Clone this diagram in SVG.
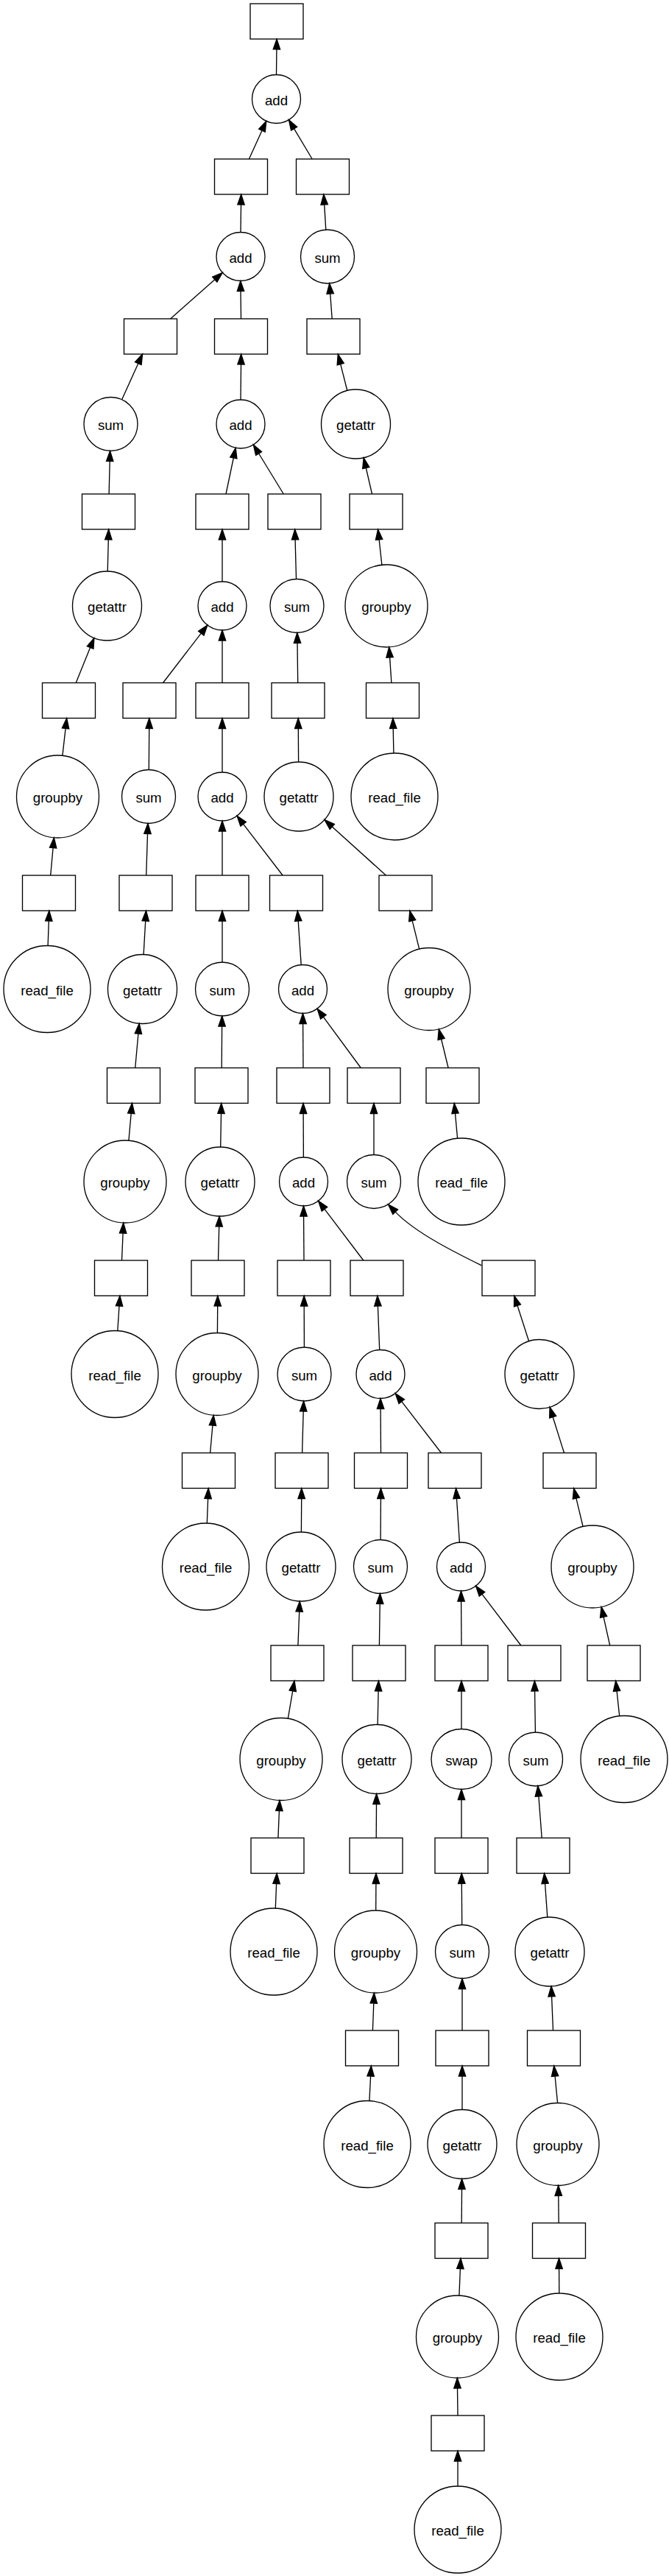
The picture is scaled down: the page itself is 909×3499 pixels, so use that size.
<svg xmlns="http://www.w3.org/2000/svg" width="909" height="3499" viewBox="0 0 909 3499">
<style>
.b{fill:none;stroke:#000;stroke-width:1.33}
.c{fill:none;stroke:#000;stroke-width:1.33}
.e{fill:none;stroke:#000;stroke-width:1.33;marker-end:url(#ah)}
text{font-family:"Liberation Sans",Arial,Helvetica,sans-serif;font-size:18.67px;text-anchor:middle;fill:#000}
</style>
<defs>
<marker id="ah" markerUnits="userSpaceOnUse" viewBox="-1 -6 17 12" refX="0" refY="0" markerWidth="17" markerHeight="12" orient="auto" overflow="visible">
<path d="M0,-4.7 L14,0 L0,4.7 Z" fill="#000" stroke="#000" stroke-width="1.33"/>
</marker>
</defs>
<rect x="0" y="0" width="909" height="3499" fill="#fff"/>
<g id="edges">
<path class="e" d="M375.5,101.5 L375.9,67"/>
<path class="e" d="M338.4,216 L356,177.2"/>
<path class="e" d="M424.2,216 L399.6,174.8"/>
<path class="e" d="M327,315.5 L327.5,278"/>
<path class="e" d="M442.8,312.1 L440.7,278"/>
<path class="e" d="M231.6,433 L291.8,379.7"/>
<path class="e" d="M327.5,433 L327,395.5"/>
<path class="e" d="M451.2,433 L448.7,398.9"/>
<path class="e" d="M165.6,542.8 L187.8,493.7"/>
<path class="e" d="M327,543 L327.5,495"/>
<path class="e" d="M471.8,530.5 L462.7,494.6"/>
<path class="e" d="M148.1,671 L149.2,626.5"/>
<path class="e" d="M307,671 L317.3,622"/>
<path class="e" d="M385.3,671 L351.6,616"/>
<path class="e" d="M505.5,671 L497.3,635.5"/>
<path class="e" d="M146.2,776 L147.3,733"/>
<path class="e" d="M302,790 L302,733"/>
<path class="e" d="M402.5,786.5 L401.1,733"/>
<path class="e" d="M518.9,767.4 L515.1,732.9"/>
<path class="e" d="M103.2,927.5 L122.6,879.6"/>
<path class="e" d="M221.5,927.5 L273.3,860.2"/>
<path class="e" d="M302,927.5 L302,870"/>
<path class="e" d="M404.7,927.5 L404,873.5"/>
<path class="e" d="M531.9,927.5 L529.6,892.9"/>
<path class="e" d="M84.9,1026.4 L89.1,989.4"/>
<path class="e" d="M202.3,1045.5 L202.7,989.5"/>
<path class="e" d="M302,1049 L302,989.5"/>
<path class="e" d="M405.6,1035 L405.3,989.5"/>
<path class="e" d="M534.9,1023 L534.2,989.5"/>
<path class="e" d="M68.7,1189 L72.1,1151.7"/>
<path class="e" d="M198.7,1189 L200.5,1132.5"/>
<path class="e" d="M302,1189 L302,1129"/>
<path class="e" d="M384.1,1189 L330.6,1119.3"/>
<path class="e" d="M524.4,1189 L451.3,1122.9"/>
<path class="e" d="M65.1,1284.5 L66.3,1251"/>
<path class="e" d="M195.1,1296.5 L197.7,1251"/>
<path class="e" d="M302,1307 L302,1251"/>
<path class="e" d="M409.2,1310.6 L405.2,1251"/>
<path class="e" d="M569.7,1289.1 L560.2,1250.6"/>
<path class="e" d="M183.7,1450.5 L187.9,1404.2"/>
<path class="e" d="M301.2,1450.5 L301.6,1394"/>
<path class="e" d="M412,1450.5 L411.6,1390.5"/>
<path class="e" d="M490.3,1450.5 L439.4,1381.4"/>
<path class="e" d="M609.1,1450.5 L599.6,1411.5"/>
<path class="e" d="M174.9,1549.2 L178.2,1512.4"/>
<path class="e" d="M299.7,1558 L300.5,1512.5"/>
<path class="e" d="M412.4,1572 L412.1,1512.5"/>
<path class="e" d="M508,1568.5 L508,1512.5"/>
<path class="e" d="M621.6,1546.3 L618.5,1512.4"/>
<path class="e" d="M165.5,1712 L167.1,1675"/>
<path class="e" d="M296.5,1712 L297.7,1666"/>
<path class="e" d="M413,1712 L412.6,1652"/>
<path class="e" d="M493.8,1712 L441,1642.4"/>
<path class="e" d="M654.5,1719 C620,1702 565,1675 537.2,1646.1"/>
<path class="e" d="M159.8,1807.6 L162,1774"/>
<path class="e" d="M295.4,1810.5 L295.7,1774"/>
<path class="e" d="M413.4,1830 L413.2,1774"/>
<path class="e" d="M515.7,1833.5 L513.4,1774"/>
<path class="e" d="M718.6,1821.8 L703,1773.3"/>
<path class="e" d="M285.6,1973.5 L288.9,1936.2"/>
<path class="e" d="M410.6,1973.5 L412.2,1917"/>
<path class="e" d="M517.5,1973.5 L517.1,1913.5"/>
<path class="e" d="M599.5,1973.5 L545.7,1903.7"/>
<path class="e" d="M766.5,1973.5 L751.2,1924.7"/>
<path class="e" d="M281.3,2069 L282.6,2035.5"/>
<path class="e" d="M409.4,2081 L409.7,2035.5"/>
<path class="e" d="M517.1,2091.5 L517.4,2035.5"/>
<path class="e" d="M624.4,2095.1 L620.5,2035.5"/>
<path class="e" d="M792.1,2073.5 L782.9,2035.1"/>
<path class="e" d="M404.9,2235 L406.7,2189"/>
<path class="e" d="M515.4,2235 L516.2,2178.5"/>
<path class="e" d="M627,2235 L626.6,2175"/>
<path class="e" d="M707.8,2235 L655,2165.4"/>
<path class="e" d="M828.7,2235 L820.1,2196.3"/>
<path class="e" d="M391.3,2334.3 L397.7,2296.8"/>
<path class="e" d="M513.1,2342.5 L514.1,2297"/>
<path class="e" d="M627,2348.5 L627,2297"/>
<path class="e" d="M727.4,2353 L726.6,2297"/>
<path class="e" d="M841.7,2330.8 L838.1,2296.9"/>
<path class="e" d="M377.9,2496.5 L379.4,2459.5"/>
<path class="e" d="M511.2,2496.5 L511.5,2450.5"/>
<path class="e" d="M627,2496.5 L627,2444.5"/>
<path class="e" d="M736.2,2496.5 L731.9,2439.9"/>
<path class="e" d="M374.3,2592 L375.6,2558.5"/>
<path class="e" d="M510.7,2595 L510.9,2558.5"/>
<path class="e" d="M627.7,2614.5 L627.3,2558.5"/>
<path class="e" d="M743.8,2604.1 L740.6,2558.5"/>
<path class="e" d="M506.4,2758 L507.8,2721"/>
<path class="e" d="M628,2758 L628,2701.5"/>
<path class="e" d="M751.5,2758 L749.6,2711.9"/>
<path class="e" d="M501.9,2853.6 L503.6,2820"/>
<path class="e" d="M628,2865.5 L628,2820"/>
<path class="e" d="M757.6,2856.6 L754.1,2820"/>
<path class="e" d="M627.2,3019.5 L627.5,2973.5"/>
<path class="e" d="M759.2,3019.5 L758.8,2982.5"/>
<path class="e" d="M623.9,3118.1 L625.4,3081.5"/>
<path class="e" d="M759.8,3115 L759.6,3081.5"/>
<path class="e" d="M622,3281 L621.5,3244"/>
<path class="e" d="M622,3377 L622,3343"/>
</g>
<g id="n0"><rect class="b" x="340" y="5" width="72" height="48"/></g>
<g id="n1"><circle class="c" cx="375.5" cy="134.5" r="33"/><text x="375.5" y="142.5">add</text></g>
<g id="n2a"><rect class="b" x="291.5" y="216" width="72" height="48"/></g>
<g id="n2b"><rect class="b" x="402.5" y="216" width="72" height="48"/></g>
<g id="n3a"><circle class="c" cx="327" cy="348.5" r="33"/><text x="327" y="356.5">add</text></g>
<g id="n3b"><circle class="c" cx="445" cy="348.5" r="36.5"/><text x="445" y="356.5">sum</text></g>
<g id="n4a"><rect class="b" x="168.5" y="433" width="72" height="48"/></g>
<g id="n4b"><rect class="b" x="291.5" y="433" width="72" height="48"/></g>
<g id="n4c"><rect class="b" x="417" y="433" width="72" height="48"/></g>
<g id="n5a"><circle class="c" cx="150.5" cy="576" r="36.5"/><text x="150.5" y="584">sum</text></g>
<g id="n5b"><circle class="c" cx="327" cy="576" r="33"/><text x="327" y="584">add</text></g>
<g id="n5c"><circle class="c" cx="483.5" cy="576" r="47"/><text x="483.5" y="584">getattr</text></g>
<g id="n6a"><rect class="b" x="111.5" y="671" width="72" height="48"/></g>
<g id="n6b"><rect class="b" x="266" y="671" width="72" height="48"/></g>
<g id="n6c"><rect class="b" x="364" y="671" width="72" height="48"/></g>
<g id="n6d"><rect class="b" x="475" y="671" width="72" height="48"/></g>
<g id="n7a"><circle class="c" cx="145.5" cy="823" r="47"/><text x="145.5" y="831">getattr</text></g>
<g id="n7b"><circle class="c" cx="302" cy="823" r="33"/><text x="302" y="831">add</text></g>
<g id="n7c"><circle class="c" cx="403.5" cy="823" r="36.5"/><text x="403.5" y="831">sum</text></g>
<g id="n7d"><circle class="c" cx="525" cy="823" r="56"/><text x="525" y="831">groupby</text></g>
<g id="n8a"><rect class="b" x="57.5" y="927.5" width="72" height="48"/></g>
<g id="n8b"><rect class="b" x="167" y="927.5" width="72" height="48"/></g>
<g id="n8c"><rect class="b" x="266" y="927.5" width="72" height="48"/></g>
<g id="n8d"><rect class="b" x="369" y="927.5" width="72" height="48"/></g>
<g id="n8e"><rect class="b" x="497.5" y="927.5" width="72" height="48"/></g>
<g id="n9a"><circle class="c" cx="78.5" cy="1082" r="56"/><text x="78.5" y="1090">groupby</text></g>
<g id="n9b"><circle class="c" cx="202" cy="1082" r="36.5"/><text x="202" y="1090">sum</text></g>
<g id="n9c"><circle class="c" cx="302" cy="1082" r="33"/><text x="302" y="1090">add</text></g>
<g id="n9d"><circle class="c" cx="406" cy="1082" r="47"/><text x="406" y="1090">getattr</text></g>
<g id="n9e"><circle class="c" cx="536" cy="1082" r="59"/><text x="536" y="1090">read_file</text></g>
<g id="n10a"><rect class="b" x="30.5" y="1189" width="72" height="48"/></g>
<g id="n10b"><rect class="b" x="162" y="1189" width="72" height="48"/></g>
<g id="n10c"><rect class="b" x="266" y="1189" width="72" height="48"/></g>
<g id="n10d"><rect class="b" x="366.5" y="1189" width="72" height="48"/></g>
<g id="n10e"><rect class="b" x="515" y="1189" width="72" height="48"/></g>
<g id="n11a"><circle class="c" cx="64" cy="1343.5" r="59"/><text x="64" y="1351.5">read_file</text></g>
<g id="n11b"><circle class="c" cx="193.5" cy="1343.5" r="47"/><text x="193.5" y="1351.5">getattr</text></g>
<g id="n11c"><circle class="c" cx="302" cy="1343.5" r="36.5"/><text x="302" y="1351.5">sum</text></g>
<g id="n11d"><circle class="c" cx="411.5" cy="1343.5" r="33"/><text x="411.5" y="1351.5">add</text></g>
<g id="n11e"><circle class="c" cx="583" cy="1343.5" r="56"/><text x="583" y="1351.5">groupby</text></g>
<g id="n12a"><rect class="b" x="145.5" y="1450.5" width="72" height="48"/></g>
<g id="n12b"><rect class="b" x="265" y="1450.5" width="72" height="48"/></g>
<g id="n12c"><rect class="b" x="376" y="1450.5" width="72" height="48"/></g>
<g id="n12d"><rect class="b" x="472" y="1450.5" width="72" height="48"/></g>
<g id="n12e"><rect class="b" x="579" y="1450.5" width="72" height="48"/></g>
<g id="n13a"><circle class="c" cx="170" cy="1605" r="56"/><text x="170" y="1613">groupby</text></g>
<g id="n13b"><circle class="c" cx="299" cy="1605" r="47"/><text x="299" y="1613">getattr</text></g>
<g id="n13c"><circle class="c" cx="412.5" cy="1605" r="33"/><text x="412.5" y="1613">add</text></g>
<g id="n13d"><circle class="c" cx="508" cy="1605" r="36.5"/><text x="508" y="1613">sum</text></g>
<g id="n13e"><circle class="c" cx="627" cy="1605" r="59"/><text x="627" y="1613">read_file</text></g>
<g id="n14a"><rect class="b" x="128.5" y="1712" width="72" height="48"/></g>
<g id="n14b"><rect class="b" x="260" y="1712" width="72" height="48"/></g>
<g id="n14c"><rect class="b" x="377" y="1712" width="72" height="48"/></g>
<g id="n14d"><rect class="b" x="476" y="1712" width="72" height="48"/></g>
<g id="n14e"><rect class="b" x="655" y="1712" width="72" height="48"/></g>
<g id="n15a"><circle class="c" cx="156" cy="1866.5" r="59"/><text x="156" y="1874.5">read_file</text></g>
<g id="n15b"><circle class="c" cx="295" cy="1866.5" r="56"/><text x="295" y="1874.5">groupby</text></g>
<g id="n15c"><circle class="c" cx="413.5" cy="1866.5" r="36.5"/><text x="413.5" y="1874.5">sum</text></g>
<g id="n15d"><circle class="c" cx="517" cy="1866.5" r="33"/><text x="517" y="1874.5">add</text></g>
<g id="n15e"><circle class="c" cx="733" cy="1866.5" r="47"/><text x="733" y="1874.5">getattr</text></g>
<g id="n16a"><rect class="b" x="247.5" y="1973.5" width="72" height="48"/></g>
<g id="n16b"><rect class="b" x="374" y="1973.5" width="72" height="48"/></g>
<g id="n16c"><rect class="b" x="481.5" y="1973.5" width="72" height="48"/></g>
<g id="n16d"><rect class="b" x="582" y="1973.5" width="72" height="48"/></g>
<g id="n16e"><rect class="b" x="738" y="1973.5" width="72" height="48"/></g>
<g id="n17a"><circle class="c" cx="279.5" cy="2128" r="59"/><text x="279.5" y="2136">read_file</text></g>
<g id="n17b"><circle class="c" cx="409" cy="2128" r="47"/><text x="409" y="2136">getattr</text></g>
<g id="n17c"><circle class="c" cx="517" cy="2128" r="36.5"/><text x="517" y="2136">sum</text></g>
<g id="n17d"><circle class="c" cx="626.5" cy="2128" r="33"/><text x="626.5" y="2136">add</text></g>
<g id="n17e"><circle class="c" cx="805" cy="2128" r="56"/><text x="805" y="2136">groupby</text></g>
<g id="n18a"><rect class="b" x="368" y="2235" width="72" height="48"/></g>
<g id="n18b"><rect class="b" x="479" y="2235" width="72" height="48"/></g>
<g id="n18c"><rect class="b" x="591" y="2235" width="72" height="48"/></g>
<g id="n18d"><rect class="b" x="690" y="2235" width="72" height="48"/></g>
<g id="n18e"><rect class="b" x="798" y="2235" width="72" height="48"/></g>
<g id="n19a"><circle class="c" cx="382" cy="2389.5" r="56"/><text x="382" y="2397.5">groupby</text></g>
<g id="n19b"><circle class="c" cx="512" cy="2389.5" r="47"/><text x="512" y="2397.5">getattr</text></g>
<g id="n19c"><circle class="c" cx="627" cy="2389.5" r="41"/><text x="627" y="2397.5">swap</text></g>
<g id="n19d"><circle class="c" cx="728" cy="2389.5" r="36.5"/><text x="728" y="2397.5">sum</text></g>
<g id="n19e"><circle class="c" cx="848" cy="2389.5" r="59"/><text x="848" y="2397.5">read_file</text></g>
<g id="n20a"><rect class="b" x="341" y="2496.5" width="72" height="48"/></g>
<g id="n20b"><rect class="b" x="475" y="2496.5" width="72" height="48"/></g>
<g id="n20c"><rect class="b" x="591" y="2496.5" width="72" height="48"/></g>
<g id="n20d"><rect class="b" x="702" y="2496.5" width="72" height="48"/></g>
<g id="n21a"><circle class="c" cx="372" cy="2651" r="59"/><text x="372" y="2659">read_file</text></g>
<g id="n21b"><circle class="c" cx="510.5" cy="2651" r="56"/><text x="510.5" y="2659">groupby</text></g>
<g id="n21c"><circle class="c" cx="628" cy="2651" r="36.5"/><text x="628" y="2659">sum</text></g>
<g id="n21d"><circle class="c" cx="747" cy="2651" r="47"/><text x="747" y="2659">getattr</text></g>
<g id="n22a"><rect class="b" x="469.5" y="2758" width="72" height="48"/></g>
<g id="n22b"><rect class="b" x="592" y="2758" width="72" height="48"/></g>
<g id="n22c"><rect class="b" x="716.5" y="2758" width="72" height="48"/></g>
<g id="n23a"><circle class="c" cx="499" cy="2912.5" r="59"/><text x="499" y="2920.5">read_file</text></g>
<g id="n23b"><circle class="c" cx="628" cy="2912.5" r="47"/><text x="628" y="2920.5">getattr</text></g>
<g id="n23c"><circle class="c" cx="758" cy="2912.5" r="56"/><text x="758" y="2920.5">groupby</text></g>
<g id="n24a"><rect class="b" x="591" y="3019.5" width="72" height="48"/></g>
<g id="n24b"><rect class="b" x="723.5" y="3019.5" width="72" height="48"/></g>
<g id="n25a"><circle class="c" cx="621.5" cy="3174" r="56"/><text x="621.5" y="3182">groupby</text></g>
<g id="n25b"><circle class="c" cx="760" cy="3174" r="59"/><text x="760" y="3182">read_file</text></g>
<g id="n26"><rect class="b" x="586" y="3281" width="72" height="48"/></g>
<g id="n27"><circle class="c" cx="622" cy="3436" r="59"/><text x="622" y="3444">read_file</text></g>
</svg>
